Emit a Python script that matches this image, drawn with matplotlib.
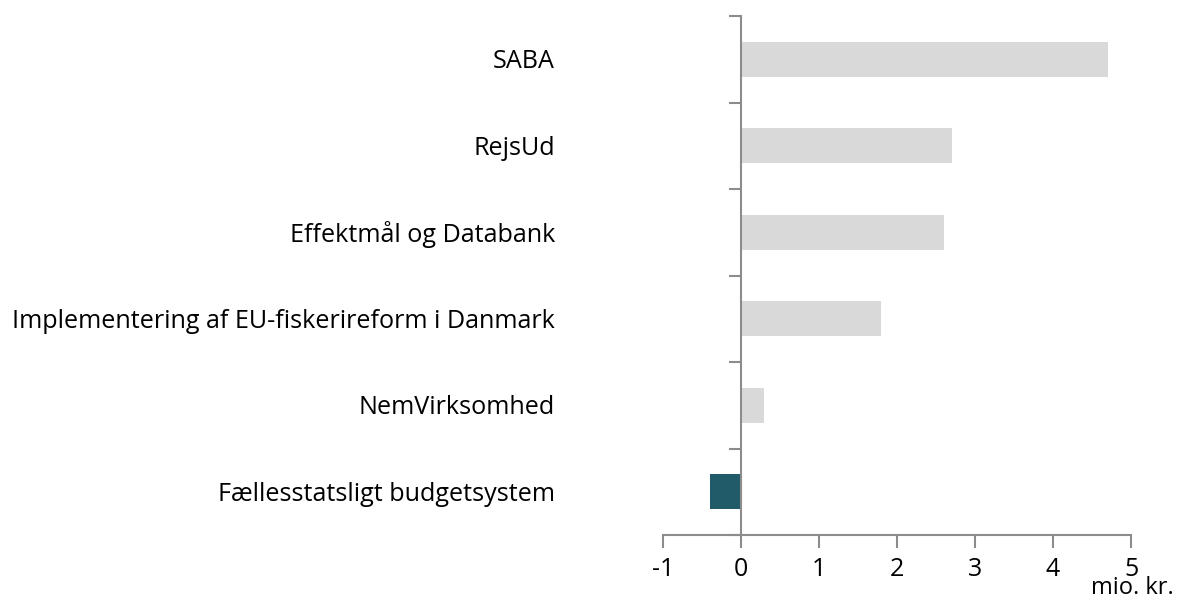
import matplotlib
matplotlib.use("Agg")
import matplotlib.pyplot as plt
import matplotlib.transforms as mtransforms

categories = ["SABA", "RejsUd", "Effektmål og Databank",
              "Implementering af EU-fiskerireform i Danmark",
              "NemVirksomhed", "Fællesstatsligt budgetsystem"]
values = [4.7, 2.7, 2.6, 1.8, 0.3, -0.4]
colors = ["#d9d9d9", "#d9d9d9", "#d9d9d9", "#d9d9d9", "#d9d9d9", "#215a68"]
xticks = [-1, 0, 1, 2, 3, 4, 5]
unit_label = "mio. kr."

plt.rcParams['font.family'] = ['Open Sans', 'DejaVu Sans']

fig = plt.figure(figsize=(11.79, 6.03), dpi=100)
ax = fig.add_axes([663/1179, 1-535/603, (1131-663)/1179, (535-16)/603])

n = len(categories)
ypos = list(range(n))[::-1]
ax.barh(ypos, values, height=0.4, color=colors, zorder=2)

ax.set_xlim(-1, 5)
ax.set_ylim(-0.5, n-0.5)

axis_col = "#8c8c8c"
for s in ["top", "right"]:
    ax.spines[s].set_visible(False)
ax.spines["left"].set_position(("data", 0))
ax.spines["left"].set_color(axis_col)
ax.spines["bottom"].set_color(axis_col)
ax.spines["left"].set_linewidth(1.5)
ax.spines["bottom"].set_linewidth(1.5)

ax.set_xticks(xticks)
ax.set_xticklabels([str(t) for t in xticks], fontsize=18)
ax.tick_params(axis="x", direction="out", length=9, width=1.5, color=axis_col, pad=7)
ax.set_yticks([i - 0.5 for i in range(n + 1)])
ax.set_yticklabels([])
ax.tick_params(axis="y", direction="out", length=9, width=1.5, color=axis_col)

trans = mtransforms.blended_transform_factory(fig.transFigure, ax.transData)
for y, c in zip(ypos, categories):
    ax.text(555/1179, y - 0.03, c, transform=trans, ha="right", va="center", fontsize=18.1, color="#000000")

fig.text(1174/1179, 1-588/603, unit_label, ha="right", va="center", fontsize=17)

fig.savefig("out.png", dpi=100)
